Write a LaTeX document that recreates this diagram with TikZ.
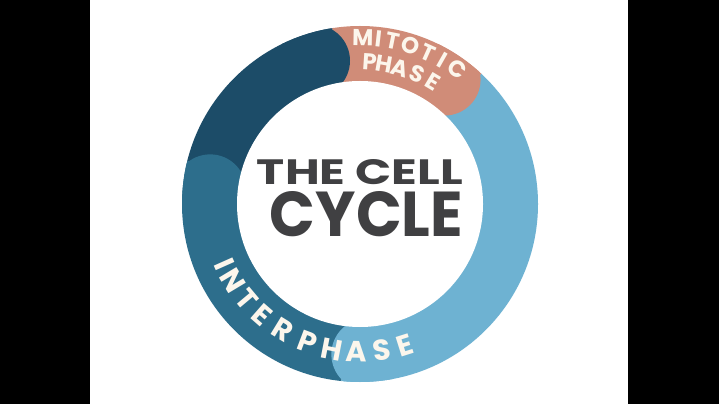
\documentclass[tikz,border=0pt]{standalone}
\usepackage{fontspec}
\setsansfont{Poppins}
\definecolor{navyseg}{RGB}{28,76,104}
\definecolor{midseg}{RGB}{45,110,140}
\definecolor{lightseg}{RGB}{110,178,210}
\definecolor{salmonseg}{RGB}{208,140,120}
\definecolor{ringtext}{RGB}{252,246,236}
\definecolor{titlegray}{RGB}{64,64,66}
\tikzset{
	ringletter/.style={inner sep=0pt, text=ringtext, font=\sffamily\bfseries\fontsize{23}{23}\selectfont},
	bigletter/.style={ringletter, font=\sffamily\bfseries\fontsize{29}{29}\selectfont},
	titletext/.style={inner sep=0pt, text=titlegray, font=\sffamily\bfseries},
}
% one coloured piece of the ring, and the rounded start that laps over the piece before it
\newcommand{\ringseg}[3]{\fill[#1] (0,0) -- (#2:200) arc[start angle=#2, end angle=#3, radius=200] -- cycle;}
\newcommand{\segcap}[2]{\fill[#1] ({#2+8.8}:150.5) circle[radius=36];}

\begin{document}
\begin{tikzpicture}[x=1pt, y=1pt]
		\fill[black] (0,0) rectangle (719,404);
		\fill[white] (90,0) rectangle (628,404);
		\begin{scope}[shift={(360,200)}]
			\begin{scope}
				\clip (0,0) circle[radius=178];
				\ringseg{salmonseg}{47}{99}
				\ringseg{navyseg}{99}{166}
				\ringseg{midseg}{166}{264}
				\ringseg{lightseg}{264}{407}
				\segcap{salmonseg}{47}
				\segcap{navyseg}{99}
				\segcap{midseg}{166}
				\segcap{lightseg}{264}
			\end{scope}
			\fill[white] (0,0) circle[radius=123];
			% ring labels
			\foreach \ch/\a [count=\i] in {M/89.0, I/83.6, T/78.6, O/72.2, T/65.8, I/60.4, C/54.2}
				\node[ringletter, rotate=\a-90] (mit\i) at (\a:166) {\ch};
			\foreach \ch/\a [count=\i] in {P/86.1, H/80.0, A/73.5, S/66.4, E/59.0}
				\node[ringletter, rotate=\a-90] (pha\i) at (\a:142) {\ch};
			\foreach \ch/\a [count=\i] in {I/204, N/211, T/220, E/228.8, R/238.5, P/249.3, H/259, A/268.7, S/278.3, E/287.5}
				\node[bigletter, rotate=\a+90] (int\i) at (\a:148) {\ch};
		\end{scope}
		\node[titletext] (thecell) at (360,231.5) {\resizebox{206pt}{25pt}{THE CELL}};
		\node[titletext] (cycle) at (366.5,190) {\resizebox{193pt}{45pt}{CYCLE}};
\end{tikzpicture}
\end{document}
